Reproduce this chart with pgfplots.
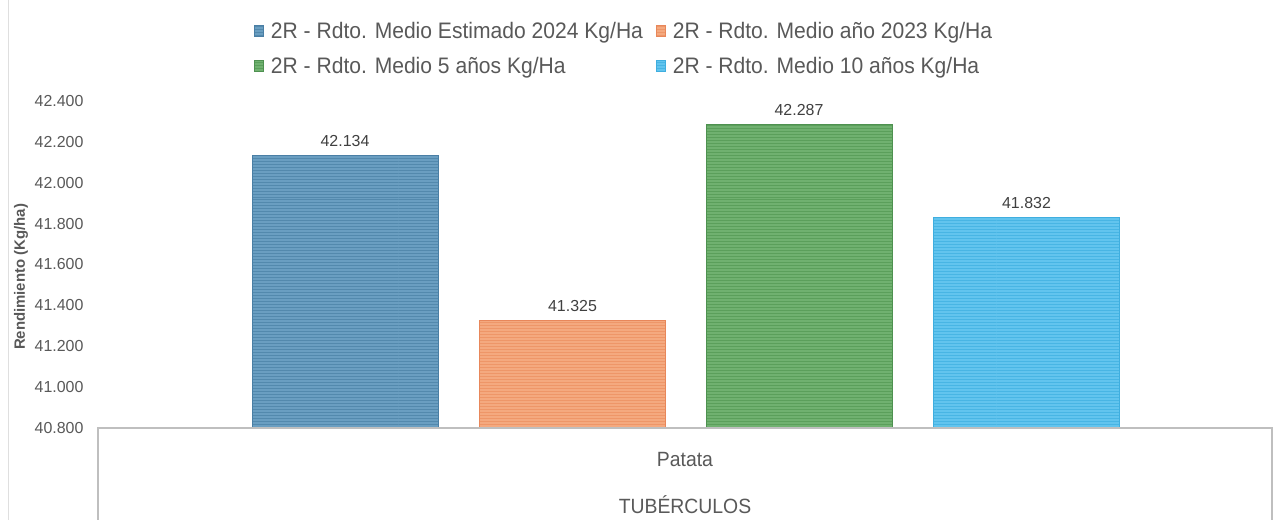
\documentclass[border=0pt]{standalone}
\usepackage{pgfplots}
\pgfplotsset{compat=1.18}
\usepackage{fontspec}
\setmainfont{Liberation Sans}
\newfontfamily\narrowfont[FakeStretch=0.94]{Liberation Sans}
\usetikzlibrary{patterns}
\definecolor{cblue}{HTML}{6A9EC1}
\definecolor{cbluel}{HTML}{5389AD}
\definecolor{cblueb}{HTML}{4A7FA5}
\definecolor{corange}{HTML}{F4A97F}
\definecolor{corangel}{HTML}{EE9668}
\definecolor{corangeb}{HTML}{E8875A}
\definecolor{cgreen}{HTML}{70B170}
\definecolor{cgreenl}{HTML}{5B9F5B}
\definecolor{cgreenb}{HTML}{4E9150}
\definecolor{ccyan}{HTML}{62C4EE}
\definecolor{ccyanl}{HTML}{48B5E4}
\definecolor{ccyanb}{HTML}{3FAEDF}
\definecolor{tickgray}{HTML}{595959}
\definecolor{labgray}{HTML}{404040}
\definecolor{boxgray}{HTML}{BFBFBF}
\begin{document}
\begin{tikzpicture}[x=1bp,y=1bp]
\useasboundingbox (0,0) rectangle (1278,520);
\fill[white] (0,0) rectangle (1278,520);
\draw[color=gray!25, line width=1bp] (8,0) -- (8,520);
\begin{axis}[
  at={(98bp,92bp)}, anchor=south west,
  scale only axis, width=1174bp, height=327bp,
  xmin=98, xmax=1272, ymin=40800, ymax=42400,
  ybar, bar shift=0pt, bar width=186,
  axis line style={draw=none}, major tick length=0pt,
  /pgf/number format/assume math mode=true,
  scaled y ticks=false,
  ytick={40800,41000,...,42400},
  yticklabel={\pgfmathprintnumber[fixed,precision=0,1000 sep={.}]{\tick}},
  yticklabel style={font=\fontsize{16}{19}\selectfont, text=tickgray, anchor=east, xshift=-11bp},
  xtick={685}, xticklabels={Patata},
  xticklabel style={font=\narrowfont\fontsize{20.7}{24}\selectfont, text=tickgray, anchor=base, yshift=-39bp},
  xlabel={TUBÉRCULOS},
  xlabel style={at={(axis description cs:0.5,0)}, anchor=base, yshift=-86bp, font=\narrowfont\fontsize{20.7}{24}\selectfont, text=tickgray},
  ylabel={Rendimiento (Kg/ha)},
  ylabel style={at={(axis description cs:0,0.462)}, anchor=center, yshift=77bp, font=\bfseries\fontsize{15}{18}\selectfont, text=tickgray},
  nodes near coords={\pgfmathprintnumber[fixed,precision=0,1000 sep={.}]{\pgfplotspointmeta}},
  nodes near coords style={font=\fontsize{16}{19}\selectfont, text=labgray, anchor=south, yshift=5bp},
  legend columns=2,
  legend cell align=left,
  legend image code/.code={\fill[#1] (0bp,-5.5bp) rectangle (9bp,5.5bp);},
  legend style={draw=none, fill=none, at={(axis description cs:0.1303,1.255)}, anchor=north west,
    font=\narrowfont\fontsize{22.5}{26}\selectfont, text=tickgray,
    /tikz/every odd column/.append style={column sep=5bp},
    /tikz/every even column/.append style={column sep=11bp}, row sep=14bp},
]
\addplot[fill=cblue, draw=cblueb, line width=0.8bp, postaction={pattern=horizontal lines, pattern color=cbluel}] coordinates {(345,42134)};
\addlegendentry{2R - Rdto. Medio Estimado 2024 Kg/Ha}
\addplot[fill=corange, draw=corangeb, line width=0.8bp, postaction={pattern=horizontal lines, pattern color=corangel}] coordinates {(572.5,41325)};
\addlegendentry{2R - Rdto. Medio año 2023 Kg/Ha}
\addplot[fill=cgreen, draw=cgreenb, line width=0.8bp, postaction={pattern=horizontal lines, pattern color=cgreenl}] coordinates {(799,42287)};
\addlegendentry{2R - Rdto. Medio 5 años Kg/Ha}
\addplot[fill=ccyan, draw=ccyanb, line width=0.8bp, postaction={pattern=horizontal lines, pattern color=ccyanl}] coordinates {(1026.5,41832)};
\addlegendentry{2R - Rdto. Medio 10 años Kg/Ha}
\end{axis}
\draw[color=boxgray, line width=1.2bp] (98,0) -- (98,92) -- (1272,92) -- (1272,0);
\end{tikzpicture}
\end{document}
